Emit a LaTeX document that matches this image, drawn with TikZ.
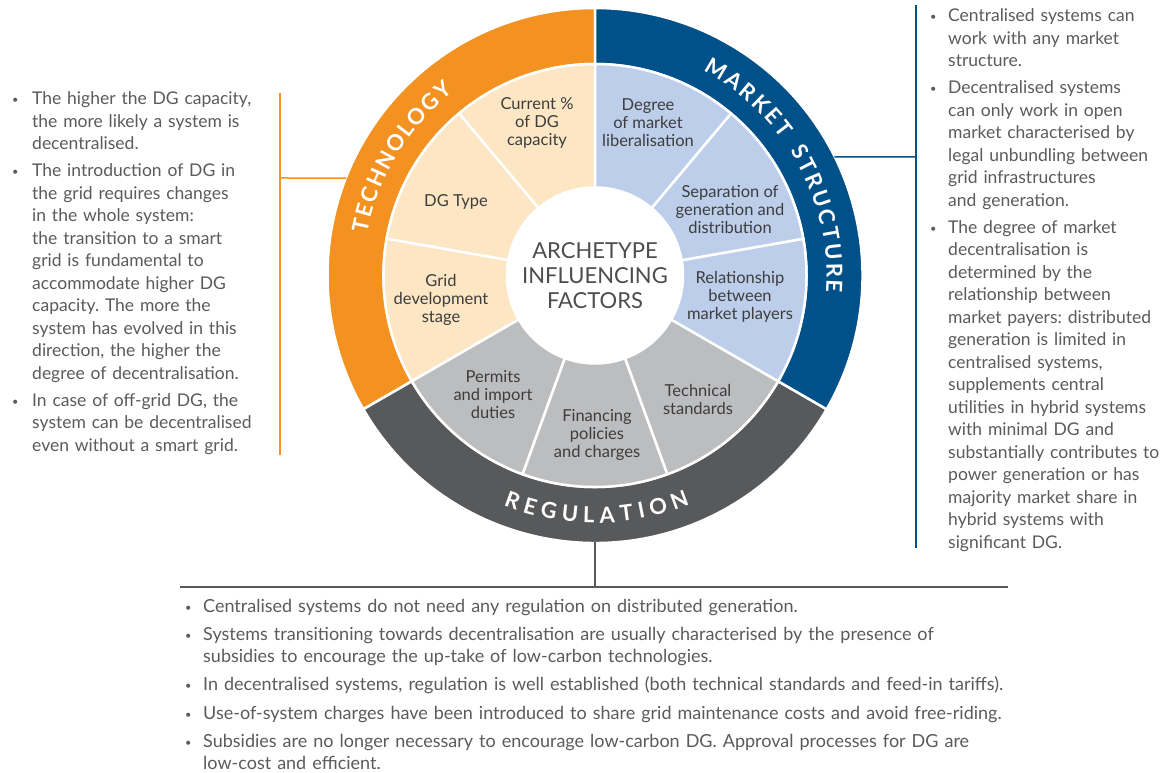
\documentclass[tikz,border=0pt]{standalone}
\usepackage{fontspec}
\setmainfont{Lato}
\definecolor{orng}{HTML}{F39220}
\definecolor{lorng}{HTML}{FCE6C3}
\definecolor{dblue}{HTML}{00508A}
\definecolor{lblue}{HTML}{BDCEEA}
\definecolor{dgrey}{HTML}{58595B}
\definecolor{lgrey}{HTML}{BCBDBF}
\definecolor{bodytxt}{HTML}{5B5B5B}
\definecolor{segtxt}{HTML}{3D3D3D}
\definecolor{ctrtxt}{HTML}{4D4D4D}
\frenchspacing
\newcommand\bitem[2][20pt]{\par{\let\\\newline\hangindent=#1\hangafter=0\noindent\llap{\makebox[#1][l]{\raisebox{1pt}{\fontsize{11}{11}\selectfont\textbullet}}}#2\par}}
\newcommand\wsector[5]{\path[fill=#1,draw=white,line width=2.5pt] (#2:#5) arc[start angle=#2,end angle=#3,radius=#5] -- (#3:#4) arc[start angle=#3,end angle=#2,radius=#4] -- cycle;}
\newcommand\ringfont{\bfseries\fontsize{22}{24}\selectfont}
% #1 letter/width(em) list, #2 centre angle, #3 baseline radius, #4 direction, #5 rotation offset, #6 spacing, #7 name
\newcommand\ringtext[7]{%
  \xdef\rtot{0}%
  \foreach \ch/\w in {#1}{\pgfmathsetmacro\tmpw{\rtot+22*\w+#6}\xdef\rtot{\tmpw}}%
  \pgfmathsetmacro\rtotal{\rtot-#6}%
  \xdef\rtotal{\rtotal}%
  \xdef\rpos{0}%
  \foreach \ch/\w [count=\i] in {#1}{%
    \pgfmathsetmacro\ang{#2+#4*(\rpos+11*\w-0.5*\rtotal)/#3*180/pi}%
    \node[rotate=\ang+#5, text=white, font=\ringfont, inner sep=0pt, anchor=base] (#7-\i) at ([shift={(\ang:#3pt)}]C) {\ch};
    \pgfmathsetmacro\tmpw{\rpos+22*\w+#6}\xdef\rpos{\tmpw}}%
}
\tikzset{
  seg/.style={align=center, text=segtxt, font=\fontsize{16.5}{18}\selectfont, inner sep=0pt},
  body/.style={anchor=base west, inner sep=0pt, align=left, text=bodytxt},
  conn/.style={line width=1.5pt},
}
\begin{document}
\begin{tikzpicture}[x=1pt,y=1pt]
\path[fill=white] (0,0) rectangle (1173,773);
\useasboundingbox (0,0) rectangle (1173,773);
\coordinate (C) at (595,497.5);
\begin{scope}[shift={(595,497.5)}]
  % outer ring
  \wsector{orng}{90}{210}{211.5pt}{267.5pt}
  \wsector{dgrey}{210}{330}{211.5pt}{267.5pt}
  \wsector{dblue}{-30}{90}{211.5pt}{267.5pt}
  % inner segments
  \wsector{lorng}{90}{130}{88pt}{211.5pt}
  \wsector{lorng}{130}{170}{88pt}{211.5pt}
  \wsector{lorng}{170}{210}{88pt}{211.5pt}
  \wsector{lgrey}{210}{250}{88pt}{211.5pt}
  \wsector{lgrey}{250}{290}{88pt}{211.5pt}
  \wsector{lgrey}{290}{330}{88pt}{211.5pt}
  \wsector{lblue}{-30}{10}{88pt}{211.5pt}
  \wsector{lblue}{10}{50}{88pt}{211.5pt}
  \wsector{lblue}{50}{90}{88pt}{211.5pt}
\end{scope}
\node[circle, fill=white, minimum size=176pt, inner sep=0pt, align=center, text=ctrtxt,
      font=\fontsize{22}{25}\selectfont] (centre) at (C) {ARCHETYPE\\INFLUENCING\\FACTORS};
% ring labels
\ringtext{T/0.60,E/0.56,C/0.68,H/0.77,N/0.77,O/0.80,L/0.50,O/0.80,G/0.74,Y/0.65}{148.5}{231.5}{-1}{-90}{2}{tech}
\ringtext{M/0.93,A/0.70,R/0.65,K/0.70,E/0.56,T/0.60,~/0.42,S/0.56,T/0.60,R/0.65,U/0.74,C/0.68,T/0.60,U/0.74,R/0.65,E/0.56}{29}{231.5}{-1}{-90}{2.7}{mkt}
\ringtext{R/0.65,E/0.56,G/0.74,U/0.74,L/0.50,A/0.70,T/0.60,I/0.30,O/0.80,N/0.77}{270.4}{247.5}{1}{90}{5.7}{reg}
% segment labels
\node[seg] (cur) at (537,650) {Current \%\\of DG\\capacity};
\node[seg] (deg) at (648,650) {Degree\\of market\\liberalisation};
\node[seg] (dgt) at (456,571) {DG Type};
\node[seg] (sep) at (730,563) {Separation of\\generation and\\distribution};
\node[seg] (grid) at (441,473) {Grid\\development\\stage};
\node[seg] (rel) at (740,476) {Relationship\\between\\market players};
\node[seg] (perm) at (493,378) {Permits\\and import\\duties};
\node[seg] (fin) at (597,338) {Financing\\policies\\and charges};
\node[seg] (tstd) at (698,374) {Technical\\standards};
% connectors
\coordinate (techRing) at ([shift={(158.6:267pt)}]C);
\coordinate (techJ) at (280,595);
\coordinate (techTop) at (280,680);
\coordinate (techBot) at (280,318);
\draw[conn, orng] (techTop) -- (techBot);
\draw[conn, orng] (techRing) -- (techJ);
\coordinate (mktRing) at ([shift={(26.35:267pt)}]C);
\coordinate (mktJ) at (916,616);
\coordinate (mktTop) at (916,768);
\coordinate (mktBot) at (916,225);
\draw[conn, dblue] (mktTop) -- (mktBot);
\draw[conn, dblue] (mktRing) -- (mktJ);
\coordinate (regRing) at ([shift={(270:267pt)}]C);
\coordinate (regJ) at (595,186);
\coordinate (regL) at (180,186);
\coordinate (regR) at (1008,186);
\draw[conn, dgrey] (regRing) -- (regJ);
\draw[conn, dgrey] (regL) -- (regR);
% text blocks
\node[body, text width=300pt, font=\fontsize{17.5}{22.5}\selectfont] (techtxt) at (12,695) {%
\setlength\parskip{4.5pt}%
\bitem{The higher the DG capacity,\\the more likely a system is\\decentralised.}%
\bitem{The introduction of DG in\\the grid requires changes\\in the whole system:\\the transition to a smart\\grid is fundamental to\\accommodate higher DG\\capacity. The more the\\system has evolved in this\\direction, the higher the\\degree of decentralisation.}%
\bitem{In case of off-grid DG, the\\system can be decentralised\\even without a smart grid.}};
\node[body, text width=260pt, font=\fontsize{17.5}{22.5}\selectfont] (mkttxt) at (930,778) {%
\setlength\parskip{4.5pt}%
\bitem[18pt]{Centralised systems can\\work with any market\\structure.}%
\bitem[18pt]{Decentralised systems\\can only work in open\\market characterised by\\legal unbundling between\\grid infrastructures\\and generation.}%
\bitem[18pt]{The degree of market\\decentralisation is\\determined by the\\relationship between\\market payers: distributed\\generation is limited in\\centralised systems,\\supplements central\\utilities in hybrid systems\\with minimal DG and\\substantially contributes to\\power generation or has\\majority market share in\\hybrid systems with\\significant DG.}};
\node[body, text width=900pt, font=\fontsize{18}{21.5}\selectfont] (regtxt) at (185,189) {%
\setlength\parskip{7pt}%
\bitem[18pt]{Centralised systems do not need any regulation on distributed generation.}%
\bitem[18pt]{Systems transitioning towards decentralisation are usually characterised by the presence of\\subsidies to encourage the up-take of low-carbon technologies.}%
\bitem[18pt]{In decentralised systems, regulation is well established (both technical standards and feed-in tariffs).}%
\bitem[18pt]{Use-of-system charges have been introduced to share grid maintenance costs and avoid free-riding.}%
\bitem[18pt]{Subsidies are no longer necessary to encourage low-carbon DG. Approval processes for DG are\\low-cost and efficient.}};
\end{tikzpicture}
\end{document}
